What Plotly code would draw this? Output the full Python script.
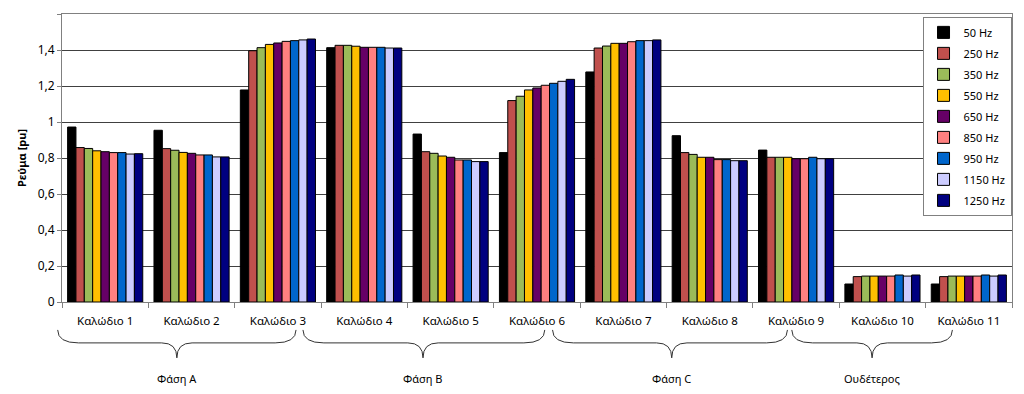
import plotly.graph_objects as go

categories = ["Καλώδιο 1", "Καλώδιο 2", "Καλώδιο 3", "Καλώδιο 4", "Καλώδιο 5", "Καλώδιο 6",
              "Καλώδιο 7", "Καλώδιο 8", "Καλώδιο 9", "Καλώδιο 10", "Καλώδιο 11"]

hz_50   = [0.972, 0.954, 1.178, 1.413, 0.933, 0.830, 1.278, 0.924, 0.844, 0.100, 0.100]
hz_250  = [0.858, 0.852, 1.396, 1.426, 0.835, 1.119, 1.411, 0.830, 0.804, 0.141, 0.141]
hz_350  = [0.853, 0.843, 1.413, 1.426, 0.826, 1.143, 1.422, 0.820, 0.804, 0.144, 0.144]
hz_550  = [0.840, 0.831, 1.431, 1.421, 0.811, 1.178, 1.437, 0.804, 0.804, 0.144, 0.144]
hz_650  = [0.835, 0.826, 1.439, 1.415, 0.804, 1.189, 1.437, 0.804, 0.796, 0.144, 0.144]
hz_850  = [0.830, 0.817, 1.448, 1.415, 0.789, 1.204, 1.446, 0.791, 0.796, 0.144, 0.144]
hz_950  = [0.830, 0.817, 1.452, 1.415, 0.789, 1.215, 1.452, 0.791, 0.804, 0.150, 0.150]
hz_1150 = [0.822, 0.806, 1.456, 1.411, 0.780, 1.226, 1.452, 0.785, 0.796, 0.144, 0.144]
hz_1250 = [0.824, 0.806, 1.461, 1.411, 0.780, 1.237, 1.456, 0.785, 0.796, 0.150, 0.150]

series_names = ["50 Hz", "250 Hz", "350 Hz", "550 Hz", "650 Hz", "850 Hz", "950 Hz", "1150 Hz", "1250 Hz"]
series_values = [hz_50, hz_250, hz_350, hz_550, hz_650, hz_850, hz_950, hz_1150, hz_1250]
series_colors = ["#000000", "#C0504D", "#9BBB59", "#FFC000", "#660066",
                 "#FF8080", "#0066CC", "#CCCCFF", "#000080"]

y_ticks = [0, 0.2, 0.4, 0.6, 0.8, 1.0, 1.2, 1.4, 1.6]

# phase groups: (label, left edge, right edge, tip) in category-index units
phase_groups = [
    ("Φάση A", -0.55, 2.21, 0.83),
    ("Φάση B", 2.29, 5.09, 3.68),
    ("Φάση C", 5.18, 7.90, 6.56),
    ("Ουδέτερος", 7.95, 9.81, 8.88),
]

FONT = "Noto Sans"
fig = go.Figure()
for name, vals, col in zip(series_names, series_values, series_colors):
    fig.add_trace(go.Bar(
        x=categories, y=vals, name=name, legendgroup=name,
        marker=dict(color=col, line=dict(color="#000000", width=1)),
    ))

n = len(categories)


def px(idx):
    return (idx + 0.5) / n


y_top, y_mid, y_bot = -0.097, -0.142, -0.194
shapes = []
for label, a, b, t in phase_groups:
    xa, xb, xt = px(a), px(b), px(t)
    d1 = 0.022
    d2 = 0.016
    path = (f"M{xa},{y_top} Q{xa},{y_mid} {xa + d1},{y_mid} "
            f"L{xt - d2},{y_mid} Q{xt},{y_mid} {xt},{y_bot} "
            f"Q{xt},{y_mid} {xt + d2},{y_mid} "
            f"L{xb - d1},{y_mid} Q{xb},{y_mid} {xb},{y_top}")
    shapes.append(dict(type="path", xref="paper", yref="paper", path=path,
                       line=dict(color="#333333", width=1)))
annotations = [dict(x=px(t), y=-0.264, xref="paper", yref="paper", text=label,
                    xanchor="center", yanchor="middle",
                    showarrow=False, font=dict(family=FONT, size=11, color="#000000"))
               for label, a, b, t in phase_groups]

# page body has an 8px default margin, so the figure is 8px smaller and offset
fig.update_layout(
    width=1016, height=386,
    margin=dict(l=54, r=12, t=6, b=92),
    paper_bgcolor="white", plot_bgcolor="white",
    separators=", ",
    barmode="group", bargap=0.13, bargroupgap=0,
    font=dict(family=FONT, size=12, color="#000000"),
    showlegend=True,
    legend=dict(x=0.9995, xanchor="right", y=0.99, yanchor="top",
                bgcolor="white", bordercolor="#808080", borderwidth=1,
                font=dict(family=FONT, size=11, color="#000000"),
                traceorder="grouped", tracegroupgap=2, itemwidth=30),
    shapes=shapes, annotations=annotations,
)
fig.update_xaxes(
    type="category", showgrid=False, showline=True, linecolor="#808080", linewidth=1,
    mirror=True, ticks="outside", tickson="boundaries", ticklen=5, tickcolor="#808080",
    tickfont=dict(family=FONT, size=11.5, color="#000000"), ticklabelstandoff=8,
    automargin=False,
)
fig.update_yaxes(
    range=[0, 1.6], tickvals=y_ticks, showgrid=True, gridcolor="#404040", gridwidth=1,
    showline=True, linecolor="#808080", linewidth=1, mirror=True,
    ticks="outside", ticklen=4, tickcolor="#808080",
    tickfont=dict(family=FONT, size=12, color="#000000"),
    title=dict(text="<b>Ρεύμα [pu]</b>", font=dict(family=FONT, size=11), standoff=8),
    zeroline=False, automargin=False,
)
fig.write_html("out.html")
